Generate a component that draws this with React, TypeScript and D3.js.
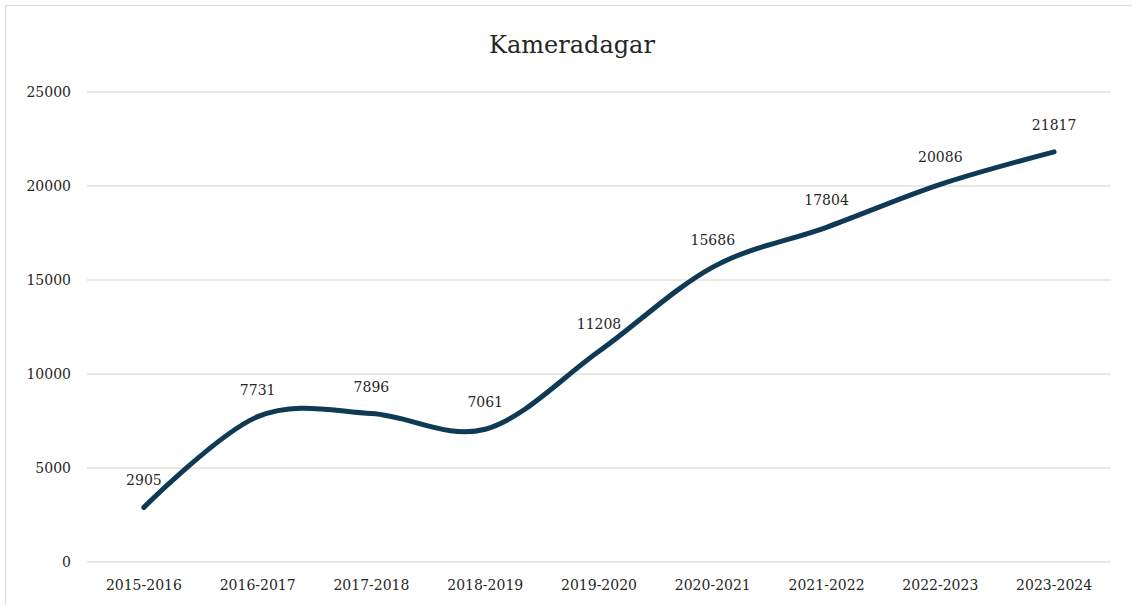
import * as d3 from 'd3';
import React from 'react';

// Kameradagar per verksamhetsår
const seasons = [
  '2015-2016',
  '2016-2017',
  '2017-2018',
  '2018-2019',
  '2019-2020',
  '2020-2021',
  '2021-2022',
  '2022-2023',
  '2023-2024'
];
const cameraDays = [2905, 7731, 7896, 7061, 11208, 15686, 17804, 20086, 21817];
const yTicks = [0, 5000, 10000, 15000, 20000, 25000];

const W = 1132;
const H = 605;
const margin = { top: 92, right: 21, bottom: 43, left: 87 };
const font = '"DejaVu Serif", "Liberation Serif", serif';

export default function App() {
  const x = d3
    .scaleBand<string>()
    .domain(seasons)
    .range([margin.left, W - margin.right]);
  const y = d3
    .scaleLinear()
    .domain([0, 25000])
    .range([H - margin.bottom, margin.top]);

  const cx = (s: string) => (x(s) ?? 0) + x.bandwidth() / 2;

  // excel-ish smoothed line
  const line = d3
    .line<number>()
    .x((_d, i) => cx(seasons[i]))
    .y((d) => y(d))
    .curve(d3.curveCardinal.tension(0));

  return (
    <svg
      width={W}
      height={H}
      style={{ position: 'absolute', left: 0, top: 0, background: '#fff' }}
    >
      {/* chart frame, runs off the right and bottom */}
      <rect
        x={5.5}
        y={5.5}
        width={W + 20}
        height={H + 20}
        fill="#fff"
        stroke="#d9d9d9"
        strokeWidth={1}
      />
      <text
        x={572}
        y={53}
        textAnchor="middle"
        fontFamily={font}
        fontSize={24}
        fill="#262626"
      >
        Kameradagar
      </text>

      {yTicks.map((t) => (
        <g key={t}>
          <line
            x1={margin.left}
            x2={W - margin.right}
            y1={y(t)}
            y2={y(t)}
            stroke="#e0e0dc"
            strokeWidth={1.5}
          />
          <text
            x={71}
            y={y(t)}
            dy="0.35em"
            textAnchor="end"
            fontFamily={font}
            fontSize={14}
            fill="#262626"
          >
            {t}
          </text>
        </g>
      ))}

      {seasons.map((s) => (
        <text
          key={s}
          x={cx(s)}
          y={H - margin.bottom + 28}
          textAnchor="middle"
          fontFamily={font}
          fontSize={14}
          fill="#262626"
        >
          {s}
        </text>
      ))}

      <path
        d={line(cameraDays) ?? ''}
        fill="none"
        stroke="#0e3a55"
        strokeWidth={5}
        strokeLinecap="round"
        strokeLinejoin="round"
      />

      {cameraDays.map((v, i) => (
        <text
          key={seasons[i]}
          x={cx(seasons[i])}
          y={y(v) - 22}
          textAnchor="middle"
          fontFamily={font}
          fontSize={14}
          fill="#262626"
        >
          {v}
        </text>
      ))}
    </svg>
  );
}
